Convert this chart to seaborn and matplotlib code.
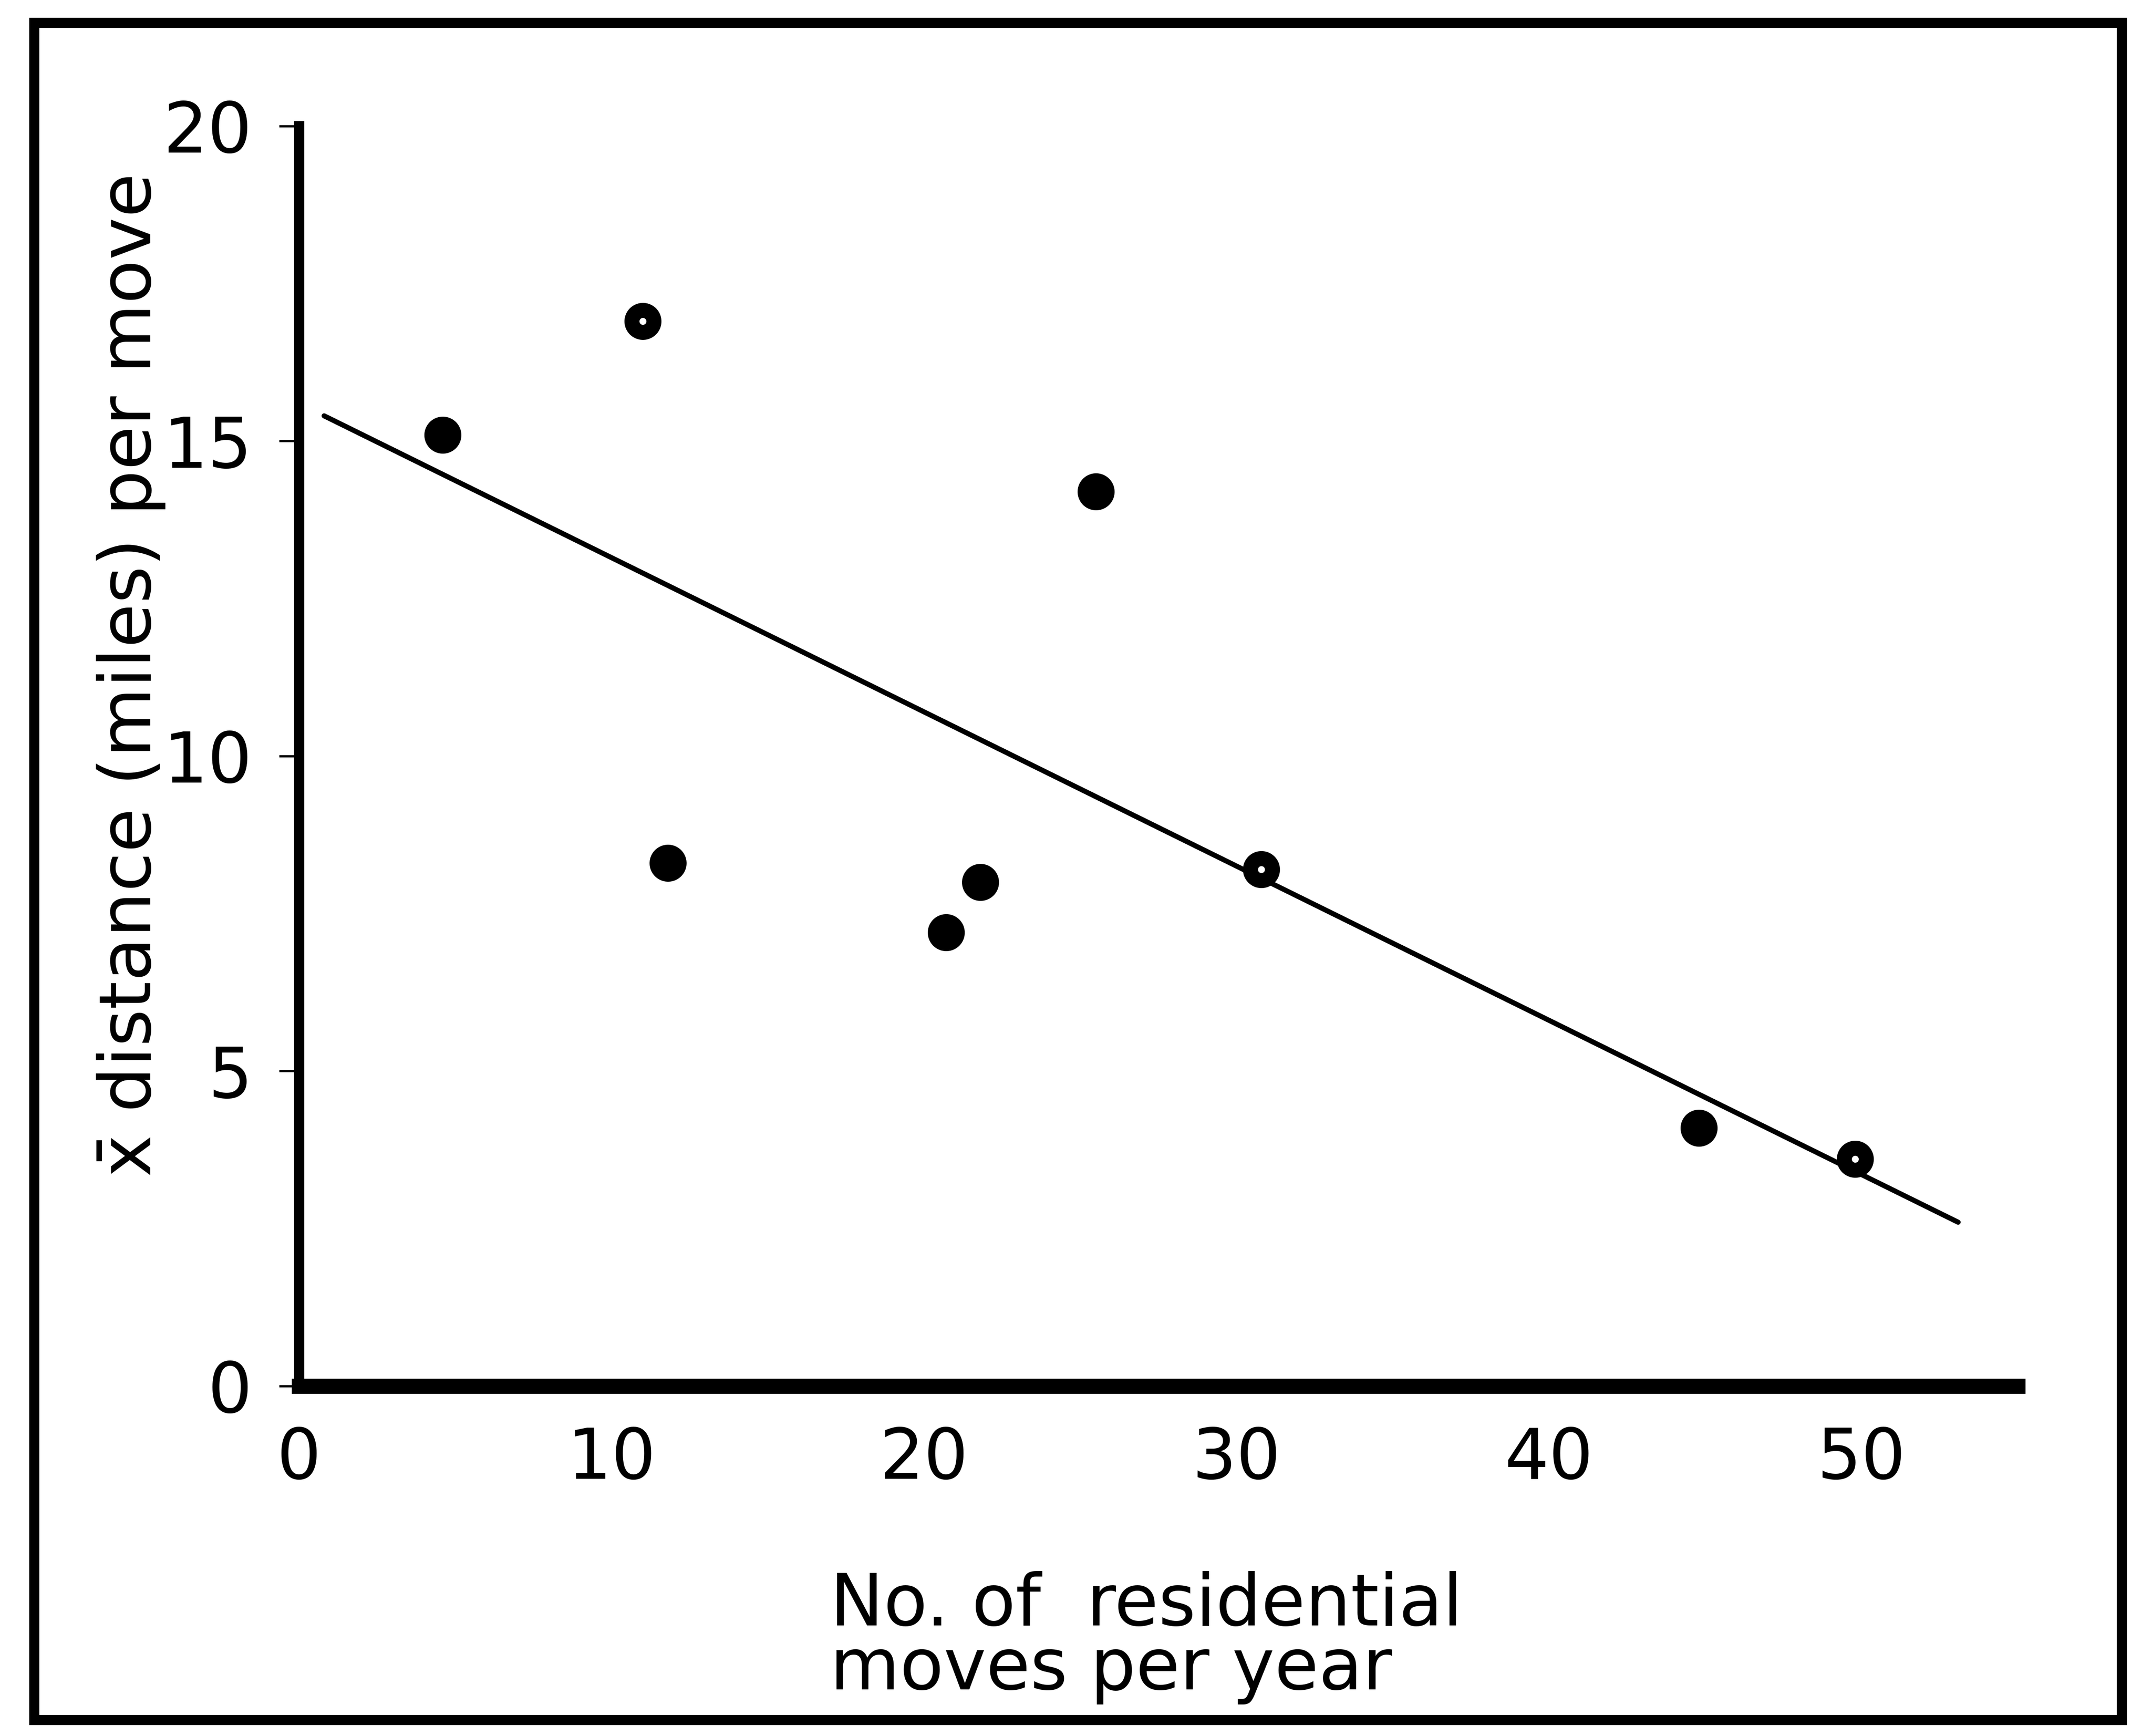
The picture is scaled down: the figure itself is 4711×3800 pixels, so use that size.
import matplotlib
matplotlib.use('Agg')
import matplotlib.pyplot as plt
import matplotlib.patches as patches
import seaborn as sns
import pandas as pd

# values
moves_per_year = [4.6, 11.0, 11.8, 20.7, 21.8, 25.5, 30.8, 44.8, 49.8]
mean_distance = [15.1, 16.9, 8.3, 7.2, 8.0, 14.2, 8.2, 4.1, 3.6]
dotted_centre = [False, True, False, False, False, False, True, False, True]

# fitted line, drawn between its two ends
fit_x = [0.8, 53.1]
fit_y = [15.4, 2.6]

x_ticks = [0, 10, 20, 30, 40, 50]
y_ticks = [0, 5, 10, 15, 20]

sns.set_style('ticks')
plt.rcParams['font.family'] = ['DejaVu Sans']
plt.rcParams['mathtext.fontset'] = 'dejavusans'

df = pd.DataFrame({'moves': moves_per_year, 'distance': mean_distance, 'dot': dotted_centre})

fig = plt.figure(figsize=(47.11, 38.0), dpi=100)
ax = fig.add_axes([0.139, 0.2016, 0.7985, 0.7258])

sns.lineplot(x=fit_x, y=fit_y, ax=ax, color='black', linewidth=8)
sns.scatterplot(data=df, x='moves', y='distance', ax=ax, color='black', s=3400, linewidth=0, zorder=3)
sns.scatterplot(data=df[df['dot']], x='moves', y='distance', ax=ax, color='white', s=120, linewidth=0, zorder=4)

ax.set_xlim(0, 55)
ax.set_ylim(0, 20)
ax.set_xticks(x_ticks)
ax.set_yticks(y_ticks)
ax.tick_params(axis='x', length=0, pad=62, labelsize=110, colors='black')
ax.tick_params(axis='y', length=32, width=3.5, pad=42, labelsize=110, colors='black')
sns.despine(ax=ax)
ax.spines['left'].set_linewidth(16)
ax.spines['bottom'].set_linewidth(24)
ax.spines['left'].set_color('black')
ax.spines['bottom'].set_color('black')

ax.set_ylabel('$\\bar{\\mathrm{x}}$ distance (miles) per move', fontsize=113, color='black')
ax.yaxis.set_label_coords(-0.077, 0.563)
ax.set_xlabel('No. of  residential\nmoves per year', fontsize=113, ha='left', linespacing=0.9, color='black')
ax.xaxis.set_label_coords(0.309, -0.147)

# frame round the whole figure
fig.patches.append(patches.Rectangle((0.016, 0.0092), 0.970, 0.9776, transform=fig.transFigure,
                                     fill=False, edgecolor='black', linewidth=16))

fig.savefig('out.png', dpi=100)
